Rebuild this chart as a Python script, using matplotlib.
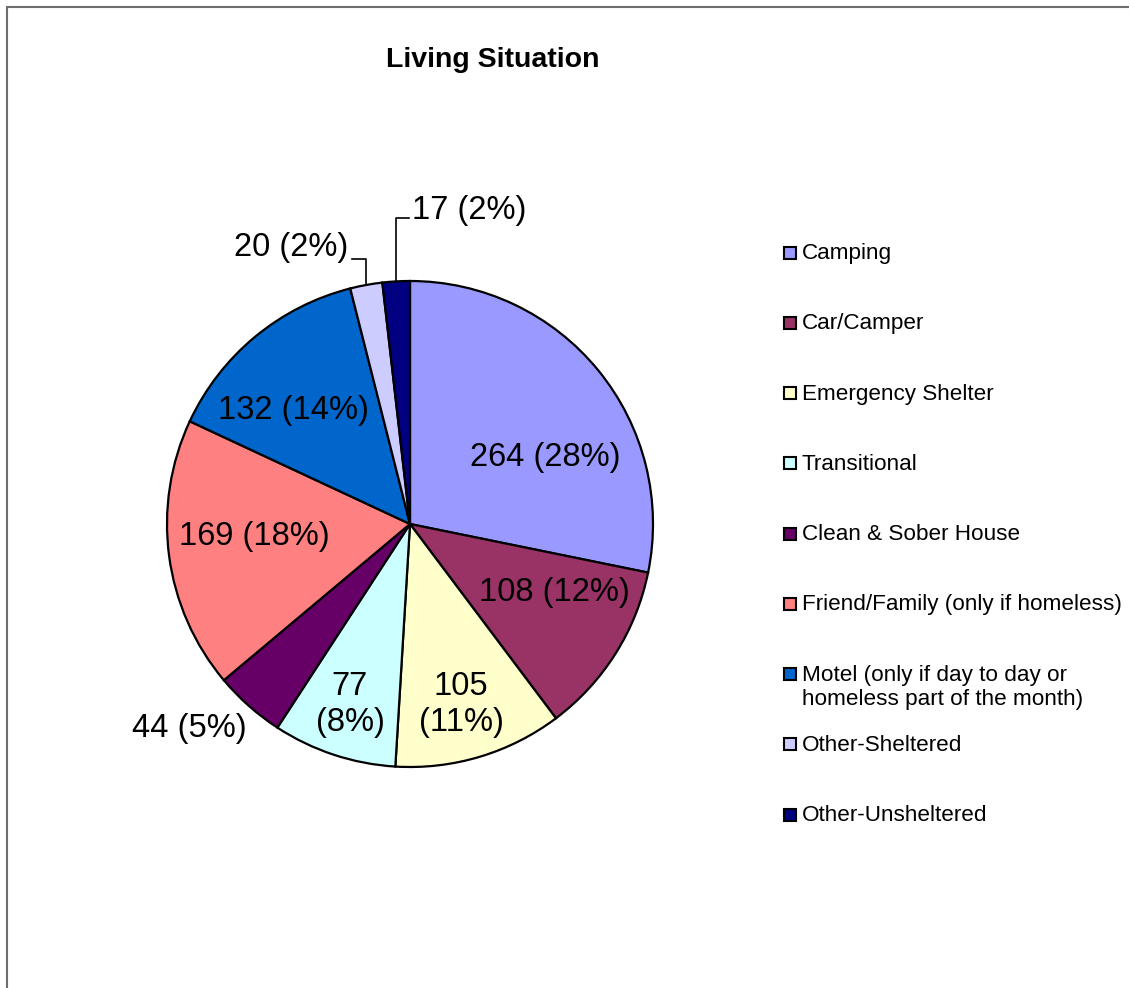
import numpy as np
import matplotlib
matplotlib.use('Agg')
import matplotlib.pyplot as plt
from matplotlib.patches import Rectangle

plt.rcParams['font.family'] = ['Liberation Sans', 'DejaVu Sans']

# data
categories = ['Camping', 'Car/Camper', 'Emergency Shelter', 'Transitional',
              'Clean & Sober House', 'Friend/Family (only if homeless)',
              'Motel (only if day to day or\nhomeless part of the month)',
              'Other-Sheltered', 'Other-Unsheltered']
counts = [264, 108, 105, 77, 44, 169, 132, 20, 17]
colors = ['#9999FF', '#993366', '#FFFFCC', '#CCFFFF', '#660066',
          '#FF8080', '#0066CC', '#CCCCFF', '#000080']

# label placement (pie radius units)
label_pos = [(0.556, 0.272), (0.593, -0.280), (0.210, -0.742), (-0.247, -0.742),
             (-0.909, -0.840), (-0.642, -0.053), (-0.481, 0.469),
             (-0.490, 1.136), (0.244, 1.292)]
two_line = [False, False, True, True, False, False, False, False, False]

W, H = 1129, 988
fig = plt.figure(figsize=(W / 100, H / 100), dpi=100)

# grey frame (only top and left visible in the crop)
fig.patches.append(Rectangle((7 / W, -0.05), 1.2, 1 - 7 / H + 0.05, transform=fig.transFigure,
                             fill=False, edgecolor='#6e6e6e', lw=1.5))

cx, cy, r = 410, 524, 243
ax = fig.add_axes([(cx - r) / W, 1 - (cy + r) / H, 2 * r / W, 2 * r / H])
ax.axis('off')

wedges, _ = ax.pie(counts, colors=colors, startangle=90, counterclock=False, radius=1,
                   wedgeprops=dict(edgecolor='black', linewidth=1.6))
ax.set_xlim(-1, 1)
ax.set_ylim(-1, 1)

total = sum(counts)
for i, c in enumerate(counts):
    pct = int(round(c / total * 100))
    sep = '\n' if two_line[i] else ' '
    txt = '{}{}({}%)'.format(c, sep, pct)
    x, y = label_pos[i]
    ax.text(x, y, txt, ha='center', va='center', fontsize=23.5, linespacing=1.2,
            color='black', clip_on=False)

# leader lines for the two small slices
for i, text_x, dy in [(7, -0.237, 0.045), (8, -0.004, 0.033)]:
    w = wedges[i]
    ang = np.deg2rad((w.theta1 + w.theta2) / 2)
    ex, ey = np.cos(ang), np.sin(ang)
    ly = label_pos[i][1] - dy
    ax.plot([ex, ex, text_x], [ey, ly, ly], color='black', lw=1.2, clip_on=False)

fig.text(493 / W, 1 - 60 / H, 'Living Situation', ha='center', va='center',
         fontsize=20.5, fontweight='bold')

# legend
line_gap = 25
for i, lab in enumerate(categories):
    base = 259 + 70.25 * i
    nlines = lab.count('\n') + 1
    fig.patches.append(Rectangle((784 / W, 1 - (base - 0.5) / H), 12 / W, 12 / H,
                                 transform=fig.transFigure, facecolor=colors[i],
                                 edgecolor='black', lw=1.5))
    fig.text(802 / W, 1 - (base + (nlines - 1) * line_gap) / H, lab, ha='left',
             va='baseline', fontsize=16.2, linespacing=1.22)

fig.savefig('out.png', dpi=100)
